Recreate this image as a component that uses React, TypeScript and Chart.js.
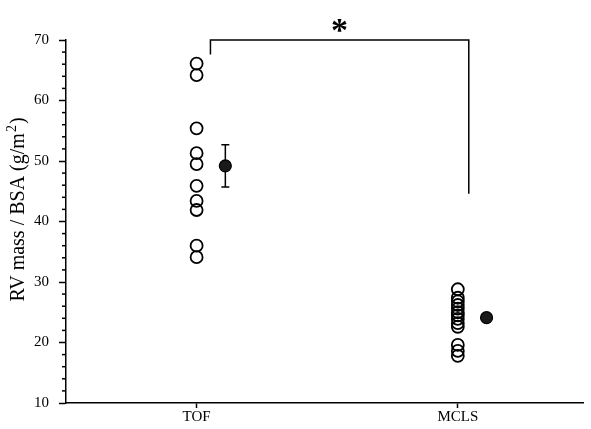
import { useEffect, useRef } from 'react';
import { Chart, registerables } from 'chart.js';

Chart.register(...registerables);

// ---- data ----
const CATEGORIES = ['TOF', 'MCLS'];
const TOF_VALUES = [66.1, 64.2, 55.4, 51.3, 49.5, 45.9, 43.4, 41.9, 36.0, 34.1];
const MCLS_VALUES = [28.8, 27.4, 26.8, 26.2, 25.6, 25.0, 24.5, 23.9, 23.2, 22.6, 19.6, 18.6, 17.8];
const MEANS = [49.2, 24.1];
const ERRORS = [3.5, 0.6];
const MEAN_OFFSET = 0.11;
const Y_MIN = 10;
const Y_MAX = 70;
const Y_MINOR_STEP = 2;
const Y_MAJOR_STEP = 10;
const Y_TITLE_MAIN = 'RV mass / BSA (g/m';
const Y_TITLE_SUP = '2';
const Y_TITLE_END = ')';
const SIG_LABEL = '*';
// significance bracket (data units): left x, right x, top y, left drop end, right drop end
const BRACKET_X = [1.053, 2.042];
const BRACKET_Y = 70;
const BRACKET_ENDS = [67.6, 44.6];

const FONT = '"Liberation Serif", "Times New Roman", serif';

const annotPlugin = {
  id: 'annot',
  beforeDatasetsDraw(chart: any) {
    const { ctx, scales } = chart;
    const x = scales.x, y = scales.y;
    ctx.save();
    ctx.strokeStyle = '#000';
    ctx.lineWidth = 1.5;
    MEANS.forEach((m, i) => {
      const px = x.getPixelForValue(i + 1 + MEAN_OFFSET);
      const top = y.getPixelForValue(m + ERRORS[i]);
      const bot = y.getPixelForValue(m - ERRORS[i]);
      ctx.beginPath();
      ctx.moveTo(px, top); ctx.lineTo(px, bot);
      ctx.moveTo(px - 4, top); ctx.lineTo(px + 4, top);
      ctx.moveTo(px - 4, bot); ctx.lineTo(px + 4, bot);
      ctx.stroke();
    });
    ctx.restore();
  },
  afterDraw(chart: any) {
    const { ctx, scales, chartArea } = chart;
    const x = scales.x, y = scales.y;
    ctx.save();
    ctx.strokeStyle = '#000';
    ctx.fillStyle = '#000';
    ctx.lineWidth = 1.5;
    // minor ticks
    for (let v = Y_MIN; v <= Y_MAX; v += Y_MINOR_STEP) {
      if (v % Y_MAJOR_STEP === 0) continue;
      const py = y.getPixelForValue(v);
      ctx.beginPath();
      ctx.moveTo(chartArea.left, py);
      ctx.lineTo(chartArea.left - 4, py);
      ctx.stroke();
    }
    // bracket
    const bx1 = x.getPixelForValue(BRACKET_X[0]);
    const bx2 = x.getPixelForValue(BRACKET_X[1]);
    const by = y.getPixelForValue(BRACKET_Y);
    ctx.beginPath();
    ctx.moveTo(bx1, y.getPixelForValue(BRACKET_ENDS[0]));
    ctx.lineTo(bx1, by);
    ctx.lineTo(bx2, by);
    ctx.lineTo(bx2, y.getPixelForValue(BRACKET_ENDS[1]));
    ctx.stroke();
    // star
    ctx.font = `bold 34px ${FONT}`;
    ctx.textAlign = 'center';
    ctx.textBaseline = 'alphabetic';
    const m = ctx.measureText(SIG_LABEL);
    const cy = by - 15;
    const base = cy + (m.actualBoundingBoxAscent - m.actualBoundingBoxDescent) / 2;
    ctx.fillText(SIG_LABEL, (bx1 + bx2) / 2, base);
    // y title
    const size = 20;
    const mainFont = `${size}px ${FONT}`;
    const supFont = `${Math.round(size * 0.7)}px ${FONT}`;
    ctx.font = mainFont;
    const w1 = ctx.measureText(Y_TITLE_MAIN).width;
    const w3 = ctx.measureText(Y_TITLE_END).width;
    ctx.font = supFont;
    const w2 = ctx.measureText(Y_TITLE_SUP).width + 1;
    const total = w1 + w2 + w3;
    ctx.translate(24, 210);
    ctx.rotate(-Math.PI / 2);
    ctx.textAlign = 'left';
    ctx.textBaseline = 'alphabetic';
    let cx = -total / 2;
    ctx.font = mainFont;
    ctx.fillText(Y_TITLE_MAIN, cx, 0);
    cx += w1 + 1;
    ctx.font = supFont;
    ctx.fillText(Y_TITLE_SUP, cx, -size * 0.42);
    cx += w2;
    ctx.font = mainFont;
    ctx.fillText(Y_TITLE_END, cx, 0);
    ctx.restore();
  },
};

export default function App() {
  const ref = useRef<HTMLCanvasElement>(null);
  useEffect(() => {
    document.body.style.margin = '0';
    const chart = new Chart(ref.current!, {
      type: 'scatter',
      data: {
        datasets: [
          {
            data: TOF_VALUES.map((v) => ({ x: 1, y: v })),
            pointRadius: 6,
            borderWidth: 1.8,
            borderColor: '#000',
            backgroundColor: 'rgba(0,0,0,0)',
          },
          {
            data: MCLS_VALUES.map((v) => ({ x: 2, y: v })),
            pointRadius: 6,
            borderWidth: 1.8,
            borderColor: '#000',
            backgroundColor: 'rgba(0,0,0,0)',
          },
          {
            data: MEANS.map((v, i) => ({ x: i + 1 + MEAN_OFFSET, y: v })),
            pointRadius: 6,
            borderWidth: 1.2,
            borderColor: '#000',
            backgroundColor: '#1a1a1a',
          },
        ],
      },
      options: {
        responsive: false,
        animation: false,
        devicePixelRatio: 1,
        layout: { padding: { top: 40, right: 3, left: 0, bottom: 0 } },
        plugins: { legend: { display: false }, tooltip: { enabled: false } },
        scales: {
          x: {
            type: 'linear',
            min: 0.5,
            max: 2.48,
            afterFit: (s: any) => { s.height = 26; },
            afterBuildTicks: (s: any) => { s.ticks = CATEGORIES.map((_, i) => ({ value: i + 1 })); },
            ticks: {
              autoSkip: false,
              maxRotation: 0,
              padding: 0,
              color: '#000',
              font: { family: FONT, size: 15 },
              callback: (v: any) => CATEGORIES[Math.round(v) - 1] ?? '',
            },
            grid: { drawOnChartArea: false, tickLength: 5, tickColor: '#000', tickWidth: 1.5 },
            border: { color: '#000', width: 1.5 },
          },
          y: {
            type: 'linear',
            min: Y_MIN,
            max: Y_MAX,
            afterFit: (s: any) => { s.width = 66; },
            afterBuildTicks: (s: any) => {
              const t = [];
              for (let v = Y_MIN; v <= Y_MAX; v += Y_MINOR_STEP) t.push({ value: v });
              s.ticks = t;
            },
            ticks: {
              autoSkip: false,
              padding: 10,
              color: '#000',
              font: { family: FONT, size: 15 },
              callback: (v: any) => (v % Y_MAJOR_STEP === 0 ? String(v) : ''),
            },
            grid: {
              drawOnChartArea: false,
              tickLength: 7,
              tickWidth: 1.5,
              tickColor: (c: any) => (c.tick && c.tick.value % Y_MAJOR_STEP === 0 ? '#000' : 'rgba(0,0,0,0)'),
            },
            border: { color: '#000', width: 1.5 },
          },
        },
      },
      plugins: [annotPlugin],
    });
    return () => chart.destroy();
  }, []);
  return <canvas ref={ref} width={591} height={429} style={{ display: 'block' }} />;
}
